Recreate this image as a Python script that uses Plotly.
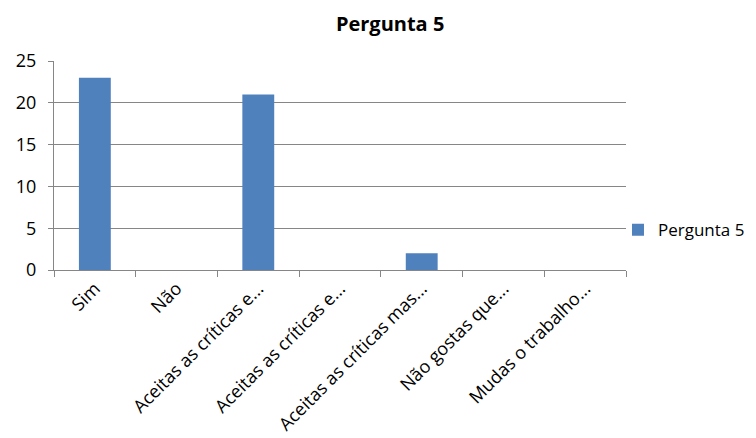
import plotly.graph_objects as go

categories = [
    "Sim",
    "Não",
    "Aceitas as críticas e...",
    "Aceitas as críticas e...",
    "Aceitas as críticas mas...",
    "Não gostas que...",
    "Mudas o trabalho...",
]
values = [23, 0, 21, 0, 2, 0, 0]
series_name = "Pergunta 5"
y_ticks = [0, 5, 10, 15, 20, 25]

# unique x keys so repeated labels stay as separate categories
x_keys = list(range(len(categories)))

font_family = "Open Sans, Lato, sans-serif"

fig = go.Figure(
    go.Bar(
        x=x_keys,
        y=values,
        name=series_name,
        marker=dict(color="#4F81BD", line=dict(width=0)),
        showlegend=True,
    )
)

fig.update_layout(
    width=756,
    height=438,
    margin=dict(l=54, r=130, t=61, b=168, autoexpand=False),
    paper_bgcolor="white",
    plot_bgcolor="white",
    font=dict(family=font_family, size=17, color="#000000"),
    title=dict(
        text="<b>Pergunta 5</b>",
        x=0.516,
        xanchor="center",
        y=0.945,
        yanchor="middle",
        font=dict(size=20, family=font_family, color="#000000"),
    ),
    bargap=0.61,
    legend=dict(
        x=0.986,
        xanchor="left",
        y=0.19,
        yanchor="middle",
        font=dict(size=17),
        itemwidth=30,
        bgcolor="rgba(0,0,0,0)",
    ),
)

fig.update_xaxes(
    type="category",
    tickmode="array",
    tickvals=x_keys,
    ticktext=categories,
    tickangle=-45,
    tickfont=dict(size=18),
    showline=True,
    linecolor="#868686",
    linewidth=1,
    ticks="outside",
    tickson="boundaries",
    ticklen=6,
    tickcolor="#868686",
    showgrid=False,
    automargin=False,
    range=[-0.5, len(categories) - 0.5],
)

fig.update_yaxes(
    range=[0, 25],
    tickmode="array",
    tickvals=y_ticks,
    tickfont=dict(size=18),
    showline=True,
    linecolor="#868686",
    linewidth=1,
    ticks="outside",
    ticklen=5,
    tickcolor="#868686",
    ticklabelstandoff=8,
    showgrid=True,
    gridcolor="#868686",
    gridwidth=1,
    zeroline=False,
    automargin=False,
)

fig.write_html("out.html")
